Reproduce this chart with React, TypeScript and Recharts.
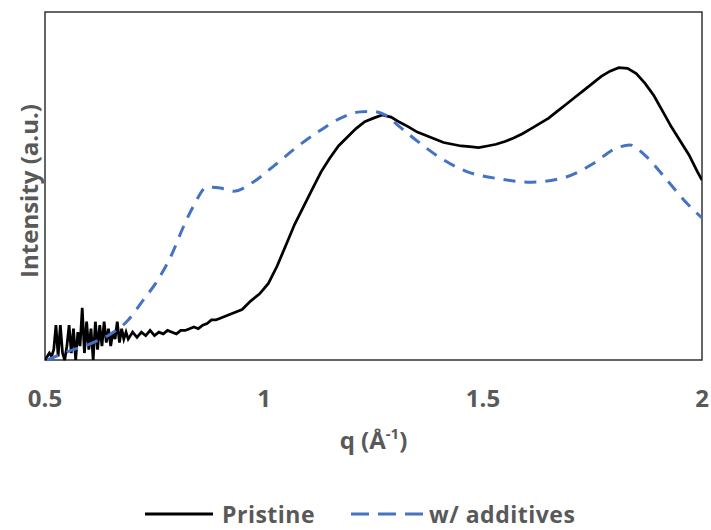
import { LineChart, Line, XAxis, YAxis, ReferenceArea, Legend } from 'recharts';

const qPristine = [
  0.5, 0.505, 0.51, 0.515, 0.52, 0.525, 0.53, 0.535, 0.54, 0.545, 0.55, 0.555, 0.56, 0.565, 0.57, 0.575,
  0.58, 0.585, 0.59, 0.595, 0.6, 0.605, 0.61, 0.615, 0.62, 0.625, 0.63, 0.635, 0.64, 0.645, 0.65, 0.655,
  0.66, 0.665, 0.67, 0.675, 0.68, 0.685, 0.69, 0.695, 0.7,
  0.71, 0.72, 0.73, 0.74, 0.75, 0.76, 0.77, 0.78, 0.79, 0.8, 0.81, 0.82, 0.83, 0.84, 0.85, 0.86, 0.87,
  0.88, 0.89, 0.9, 0.91, 0.92, 0.93, 0.95, 0.97, 0.99, 1.01, 1.03, 1.05, 1.07, 1.09, 1.11, 1.13, 1.15,
  1.17, 1.19, 1.21, 1.23, 1.25, 1.27, 1.29, 1.31, 1.33, 1.35, 1.37, 1.39, 1.41, 1.43, 1.45, 1.47, 1.49,
  1.51, 1.53, 1.55, 1.57, 1.59, 1.61, 1.63, 1.65, 1.67, 1.69, 1.71, 1.73, 1.75, 1.77, 1.79, 1.81, 1.83,
  1.85, 1.87, 1.89, 1.91, 1.93, 1.95, 1.97, 1.99, 2.0,
];
const vPristine = [
  0, 1, 2, 1, 3, 10, 1, 10, 2, 0, 4, 10, 2, 9, 0, 8,
  4, 15, 2, 11, 3, 9, 0, 11, 3, 10, 4, 11, 5, 9, 4, 8,
  6, 11, 5, 9, 6, 8, 6, 7, 8,
  6.5, 8, 7, 8.5, 7, 8, 7.5, 8.5, 8, 7.5, 8.5, 8.5, 9, 9.5, 9, 10, 10.5,
  11.5, 11.5, 12, 12.5, 13, 13.5, 14.5, 17, 19, 22, 27, 33, 39, 44, 49, 54, 58,
  61.5, 64, 66.5, 68.5, 69.5, 70.4, 69.8, 68.3, 67, 65.5, 64.5, 63.5, 62.5, 62, 61.5, 61.3, 61,
  61.5, 62, 62.8, 63.8, 65, 66.5, 68, 69.5, 71.5, 73.5, 75.5, 77.5, 79.5, 81.5, 83, 84, 83.8,
  82.3, 79.5, 76, 71.5, 67, 63, 59, 54, 51.7,
];

const qAdditives = [
  0.505, 0.55, 0.6, 0.65, 0.69, 0.72, 0.76, 0.79, 0.815, 0.84, 0.87, 0.9, 0.93, 0.975, 1.02, 1.075,
  1.13, 1.175, 1.22, 1.25, 1.275, 1.31, 1.35, 1.4, 1.46, 1.54, 1.61, 1.69, 1.75, 1.8, 1.835, 1.87,
  1.92, 1.965, 2.0,
];
const vAdditives = [
  0, 2.3, 4.5, 7.5, 11.5, 16.5, 23.5, 30.5, 38, 44.5, 49.7, 49.4, 48.5, 51.1, 55.5, 61.2,
  66.1, 69.5, 71.3, 71.4, 70.5, 67, 62.9, 58.3, 54.3, 52, 51.1, 52.6, 56.3, 60.6, 61.8, 58.8,
  51.7, 45.1, 40.8,
];

const xTicks = [0.5, 1, 1.5, 2];

const pristine = qPristine.map((q, i) => ({ q, v: vPristine[i] }));
const additives = qAdditives.map((q, i) => ({ q, v: vAdditives[i] }));

const FONT = '"Open Sans", "DejaVu Sans", sans-serif';
const GREY = '#595959';
const BLUE = '#4472C4';

function XLabel({ viewBox }: any) {
  const cx = viewBox.x + viewBox.width / 2;
  const y = viewBox.y + 89;
  return (
    <text x={cx} y={y} textAnchor="middle" fill={GREY} fontFamily={FONT} fontWeight={700} fontSize={24}>
      q (Å<tspan fontSize={15} dy={-10}>-1</tspan><tspan dy={10}>)</tspan>
    </text>
  );
}

function YLabel({ viewBox }: any) {
  const cx = 28;
  const cy = viewBox.y + viewBox.height / 2 + 5;
  return (
    <text x={cx} y={cy} transform={`rotate(-90, ${cx}, ${cy})`} textAnchor="middle" dominantBaseline="central"
      fill={GREY} fontFamily={FONT} fontWeight={700} fontSize={24}>
      Intensity (a.u.)
    </text>
  );
}

function LegendBox() {
  const txt = { color: GREY, fontFamily: FONT, fontWeight: 700, fontSize: 23, letterSpacing: 0.5, lineHeight: '30px' };
  return (
    <div style={{ height: 30, paddingLeft: 145, display: 'flex', alignItems: 'center' }}>
      <svg width={68} height={6}><line x1={0} y1={3} x2={68} y2={3} stroke="#000" strokeWidth={3} /></svg>
      <span style={{ ...txt, marginLeft: 9 }}>Pristine</span>
      <svg width={72} height={6} style={{ marginLeft: 36 }}>
        <line x1={0} y1={3} x2={72} y2={3} stroke={BLUE} strokeWidth={3} strokeDasharray="18 9" />
      </svg>
      <span style={{ ...txt, marginLeft: 6 }}>w/ additives</span>
    </div>
  );
}

export default function App() {
  return (
    <div style={{ position: 'absolute', left: 0, top: 0, width: 711, height: 530, background: '#fff' }}>
      <LineChart width={711} height={530} margin={{ top: 12, right: 9, left: 0, bottom: 0 }}>
        <XAxis type="number" dataKey="q" domain={[0.5, 2]} ticks={xTicks} allowDataOverflow
          height={140} tickSize={0} tickMargin={30} axisLine={false} tickLine={false}
          tick={{ fill: GREY, fontFamily: FONT, fontWeight: 700, fontSize: 24 }}
          label={{ content: XLabel }} />
        <YAxis type="number" domain={[0, 100]} width={45} tick={false} axisLine={false} tickLine={false}
          label={{ content: YLabel }} />
        <ReferenceArea x1={0.5} x2={2} y1={0} y2={100} fill="none" stroke="#333" strokeWidth={1.5} />
        <Line data={pristine} dataKey="v" type="linear" stroke="#000" strokeWidth={2.75} dot={false}
          isAnimationActive={false} name="Pristine" />
        <Line data={additives} dataKey="v" type="monotone" stroke={BLUE} strokeWidth={3} strokeDasharray="12 9"
          dot={false} isAnimationActive={false} name="w/ additives" />
        <Legend verticalAlign="bottom" content={<LegendBox />} wrapperStyle={{ left: 0, width: 711, bottom: 1 }} />
      </LineChart>
    </div>
  );
}
